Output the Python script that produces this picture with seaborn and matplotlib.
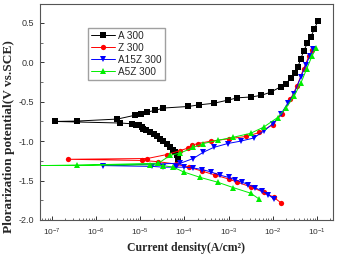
import numpy as np
import pandas as pd
import matplotlib
matplotlib.use("Agg")
import matplotlib.pyplot as plt
import matplotlib.ticker as mticker
import seaborn as sns

# log10(current density) and potential
# ordered: cathodic end -> corrosion point -> anodic end
a300_logi = [-4.14, -4.17, -4.21, -4.26, -4.32, -4.40, -4.48, -4.55, -4.61, -4.70,
             -4.77, -4.86, -4.93, -4.97, -5.02, -5.10, -5.18, -5.45, -6.93, -6.43,
             -5.52, -5.11, -4.98, -4.84, -4.66, -4.48, -3.91, -3.68, -3.34, -3.02,
             -2.80, -2.50, -2.27, -2.05, -1.82, -1.70, -1.59, -1.50, -1.43, -1.37,
             -1.30, -1.22, -1.14, -1.06, -0.98]
a300_E = [-1.22, -1.18, -1.14, -1.11, -1.08, -1.04, -1.00, -0.97, -0.94, -0.91,
          -0.89, -0.86, -0.84, -0.82, -0.80, -0.79, -0.78, -0.77, -0.75, -0.745,
          -0.72, -0.67, -0.65, -0.63, -0.61, -0.58, -0.56, -0.54, -0.52, -0.48,
          -0.45, -0.44, -0.42, -0.38, -0.31, -0.27, -0.20, -0.13, -0.06, 0.04,
          0.14, 0.24, 0.32, 0.42, 0.52]

z300_logi = [-1.82, -1.98, -2.20, -2.50, -2.80, -3.00, -3.30, -3.60, -3.90, -4.20,
             -4.60, -4.95, -6.64, -4.84, -4.40, -4.10, -3.93, -3.82, -3.70, -3.40,
             -3.00, -2.60, -2.30, -2.00, -1.80, -1.60, -1.45, -1.30, -1.18, -1.10]
z300_E = [-1.78, -1.71, -1.65, -1.58, -1.52, -1.48, -1.43, -1.38, -1.33, -1.29,
          -1.26, -1.245, -1.23, -1.22, -1.17, -1.12, -1.09, -1.05, -1.03, -1.00,
          -0.97, -0.94, -0.89, -0.79, -0.66, -0.47, -0.30, -0.08, 0.08, 0.16]

a15z300_logi = [-1.98, -2.10, -2.25, -2.40, -2.55, -2.70, -2.85, -3.00, -3.20, -3.40,
                -3.60, -3.80, -4.00, -4.20, -4.48, -4.73, -5.84, -4.09, -3.80, -3.57,
                -3.34, -3.02, -2.73, -2.43, -2.20, -2.00, -1.82, -1.66, -1.52, -1.36,
                -1.25, -1.16, -1.09]
a15z300_E = [-1.73, -1.68, -1.63, -1.59, -1.55, -1.52, -1.49, -1.46, -1.43, -1.39,
             -1.36, -1.34, -1.33, -1.33, -1.33, -1.32, -1.31, -1.28, -1.22, -1.14,
             -1.08, -1.03, -1.00, -0.96, -0.87, -0.78, -0.66, -0.52, -0.40, -0.18,
             -0.03, 0.08, 0.17]

a5z300_logi = [-2.32, -2.50, -2.89, -3.25, -3.64, -4.02, -4.25, -4.48, -4.77, -7.45,
               -6.43, -4.59, -4.32, -4.09, -3.80, -3.57, -3.25, -2.89, -2.50, -2.20,
               -1.89, -1.70, -1.52, -1.36, -1.23, -1.11, -1.02]
a5z300_E = [-1.73, -1.66, -1.59, -1.52, -1.46, -1.39, -1.33, -1.31, -1.30, -1.31,
            -1.305, -1.28, -1.18, -1.15, -1.08, -1.03, -0.99, -0.95, -0.90, -0.82,
            -0.70, -0.58, -0.43, -0.26, -0.08, 0.08, 0.18]

samples = ["A 300", "Z 300", "A15Z 300", "A5Z 300"]
series = [(a300_logi, a300_E), (z300_logi, z300_E),
          (a15z300_logi, a15z300_E), (a5z300_logi, a5z300_E)]
x_decades = [-7, -6, -5, -4, -3, -2, -1]

rows = []
for name, (li, ev) in zip(samples, series):
    for k, (l, e) in enumerate(zip(li, ev)):
        rows.append({"sample": name, "order": k, "i": 10 ** l, "E": e})
df = pd.DataFrame(rows)

sns.set_style("ticks")
plt.rcParams["axes.unicode_minus"] = False
plt.rcParams["font.family"] = ["Liberation Sans", "DejaVu Sans"]

colors = {"A 300": "black", "Z 300": "#ff0000", "A15Z 300": "#0000ff", "A5Z 300": "#00ee00"}
markers = {"A 300": "s", "Z 300": "o", "A15Z 300": "v", "A5Z 300": "^"}

fig = plt.figure(figsize=(3.37, 2.59), dpi=100)
ax = fig.add_axes([0.1187, 0.1506, 0.8694, 0.834])

sns.lineplot(data=df, x="i", y="E", hue="sample", style="sample", hue_order=samples,
             style_order=samples, palette=colors, markers=markers, dashes=False,
             sort=False, estimator=None, units="sample", linewidth=0.7,
             markersize=3.8, markeredgewidth=0, ax=ax)

ax.set_xscale("log")
ax.set_xlim(10 ** -7.27, 10 ** -0.636)
ax.set_ylim(-2.0, 0.74)
ax.xaxis.set_major_locator(mticker.FixedLocator([10.0 ** d for d in x_decades]))
ax.xaxis.set_major_formatter(mticker.LogFormatterSciNotation())
minor = [m * 10.0 ** d for d in [-8] + x_decades for m in range(2, 10)]
ax.xaxis.set_minor_locator(mticker.FixedLocator(
    [v for v in minor if 10 ** -7.27 < v < 10 ** -0.636]))
ax.xaxis.set_minor_formatter(mticker.NullFormatter())
ax.yaxis.set_major_locator(mticker.MultipleLocator(0.5))
ax.yaxis.set_minor_locator(mticker.MultipleLocator(0.25))
ax.yaxis.set_major_formatter(mticker.FormatStrFormatter("%.1f"))
ax.tick_params(which="both", direction="in", colors="#333333")
ax.tick_params(which="major", length=3, width=0.7, labelsize=6.5, pad=4)
ax.tick_params(which="minor", length=1.8, width=0.5)
ax.tick_params(axis="x", labelsize=6, pad=5)
for s in ax.spines.values():
    s.set_color("#555555")
    s.set_linewidth(0.8)

ax.set_xlabel("Current density(A/cm²)", family="Liberation Serif",
              fontweight="bold", fontsize=8.5, labelpad=3)
ax.set_ylabel("Plorarization potential(V vs.SCE)", family="Liberation Serif",
              fontweight="bold", fontsize=9.6)
ax.yaxis.set_label_coords(-0.087, 0.385)

handles, labels = ax.get_legend_handles_labels()
ax.legend(handles, labels, loc="upper left", bbox_to_anchor=(0.164, 0.889),
          fontsize=7.2, frameon=True, fancybox=False, edgecolor="#888888",
          handlelength=2.4, handletextpad=0.3, labelspacing=0.2,
          borderpad=0.3, borderaxespad=0)

fig.savefig("out.png", dpi=100)
